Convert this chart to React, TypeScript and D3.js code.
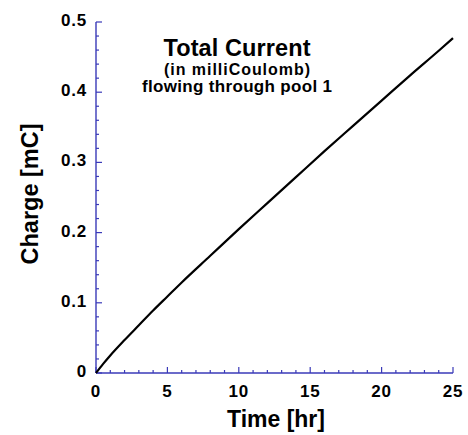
import React, { useEffect, useRef } from "react";
import * as d3 from "d3";

// Time in hours and accumulated charge in mC
const timeHr = [0, 0.5, 1, 2, 3, 4, 5, 6, 8, 10, 12, 14, 16, 18, 20, 22, 24, 25];
const chargeMC = [
  0, 0.013, 0.025, 0.047, 0.068, 0.089, 0.109, 0.129, 0.167, 0.205, 0.242, 0.279,
  0.316, 0.352, 0.388, 0.424, 0.459, 0.477,
];
const xTicks = [0, 5, 10, 15, 20, 25];
const yTicks = [0, 0.1, 0.2, 0.3, 0.4, 0.5];
const titleLines = ["Total Current", "(in milliCoulomb)", "flowing through pool 1"];

const drawChart = (svgEl: SVGSVGElement) => {
  const width = 468;
  const height = 435;
  const axisColor = "#3a3ab8";
  const font = "'Liberation Sans', Arial, Helvetica, sans-serif";

  const xScale = d3.scaleLinear().domain([0, 25]).range([96, 453]);
  const yScale = d3.scaleLinear().domain([0, 0.5]).range([373, 22]);

  const svg = d3.select(svgEl);
  svg.selectAll("*").remove();
  svg.attr("width", width).attr("height", height);

  svg.append("rect").attr("width", width).attr("height", height).attr("fill", "#fff");

  // ticks point inward, minor every 1 hr / 0.02 mC
  const g = svg.append("g");
  d3.range(0, 25.01, 1).forEach((t) => {
    const major = t % 5 === 0;
    g.append("line")
      .attr("x1", xScale(t))
      .attr("x2", xScale(t))
      .attr("y1", yScale(0))
      .attr("y2", yScale(0) - (major ? 6 : 3))
      .attr("stroke", axisColor)
      .attr("stroke-width", 1.2);
  });
  d3.range(0, 0.5001, 0.02).forEach((v, i) => {
    const major = i % 5 === 0;
    g.append("line")
      .attr("x1", xScale(0))
      .attr("x2", xScale(0) + (major ? 6 : 3))
      .attr("y1", yScale(v))
      .attr("y2", yScale(v))
      .attr("stroke", axisColor)
      .attr("stroke-width", 1.2);
  });

  // axis lines
  g.append("line")
    .attr("x1", xScale(0))
    .attr("x2", xScale(25))
    .attr("y1", yScale(0))
    .attr("y2", yScale(0))
    .attr("stroke", axisColor)
    .attr("stroke-width", 1.4);
  g.append("line")
    .attr("x1", xScale(0))
    .attr("x2", xScale(0))
    .attr("y1", yScale(0))
    .attr("y2", yScale(0.5))
    .attr("stroke", axisColor)
    .attr("stroke-width", 1.4);

  // tick labels
  svg
    .selectAll("text.xt")
    .data(xTicks)
    .enter()
    .append("text")
    .attr("class", "xt")
    .attr("x", (d) => xScale(d))
    .attr("y", 397)
    .attr("text-anchor", "middle")
    .style("font-family", font)
    .style("font-size", "17px")
    .style("font-weight", "bold")
    .style("letter-spacing", "0.8px")
    .text((d) => d);

  svg
    .selectAll("text.yt")
    .data(yTicks)
    .enter()
    .append("text")
    .attr("class", "yt")
    .attr("x", 87)
    .attr("y", (d) => yScale(d) + 4)
    .attr("text-anchor", "end")
    .style("font-family", font)
    .style("font-size", "17px")
    .style("font-weight", "bold")
    .style("letter-spacing", "0.8px")
    .text((d) => (d === 0 ? "0" : d.toFixed(1)));

  // curve
  const line = d3
    .line<number>()
    .x((d, i) => xScale(timeHr[i]))
    .y((d) => yScale(d))
    .curve(d3.curveMonotoneX);

  svg
    .append("path")
    .datum(chargeMC)
    .attr("d", line)
    .attr("fill", "none")
    .attr("stroke", "#000")
    .attr("stroke-width", 2.2);

  // axis titles
  svg
    .append("text")
    .attr("x", 276)
    .attr("y", 427)
    .attr("text-anchor", "middle")
    .style("font-family", font)
    .style("font-size", "23px")
    .style("font-weight", "bold")
    .text("Time [hr]");

  svg
    .append("text")
    .attr("transform", "translate(38, 194) rotate(-90)")
    .attr("text-anchor", "middle")
    .style("font-family", font)
    .style("font-size", "23.5px")
    .style("font-weight", "bold")
    .text("Charge [mC]");

  // title block
  const sizes = [23.5, 16, 17];
  const widths = [147, 146, 190];
  const ys = [56, 75, 92];
  titleLines.forEach((t, i) => {
    svg
      .append("text")
      .attr("x", 237)
      .attr("y", ys[i])
      .attr("text-anchor", "middle")
      .attr("textLength", widths[i])
      .attr("lengthAdjust", "spacing")
      .style("font-family", font)
      .style("font-size", `${sizes[i]}px`)
      .style("font-weight", "bold")
      .text(t);
  });
};

const App = () => {
  const svgRef = useRef<SVGSVGElement>(null);

  useEffect(() => {
    if (svgRef.current) drawChart(svgRef.current);
  }, []);

  return (
    <svg
      ref={svgRef}
      width="468"
      height="435"
      style={{ position: "absolute", left: 0, top: 0 }}
    ></svg>
  );
};

export default App;
